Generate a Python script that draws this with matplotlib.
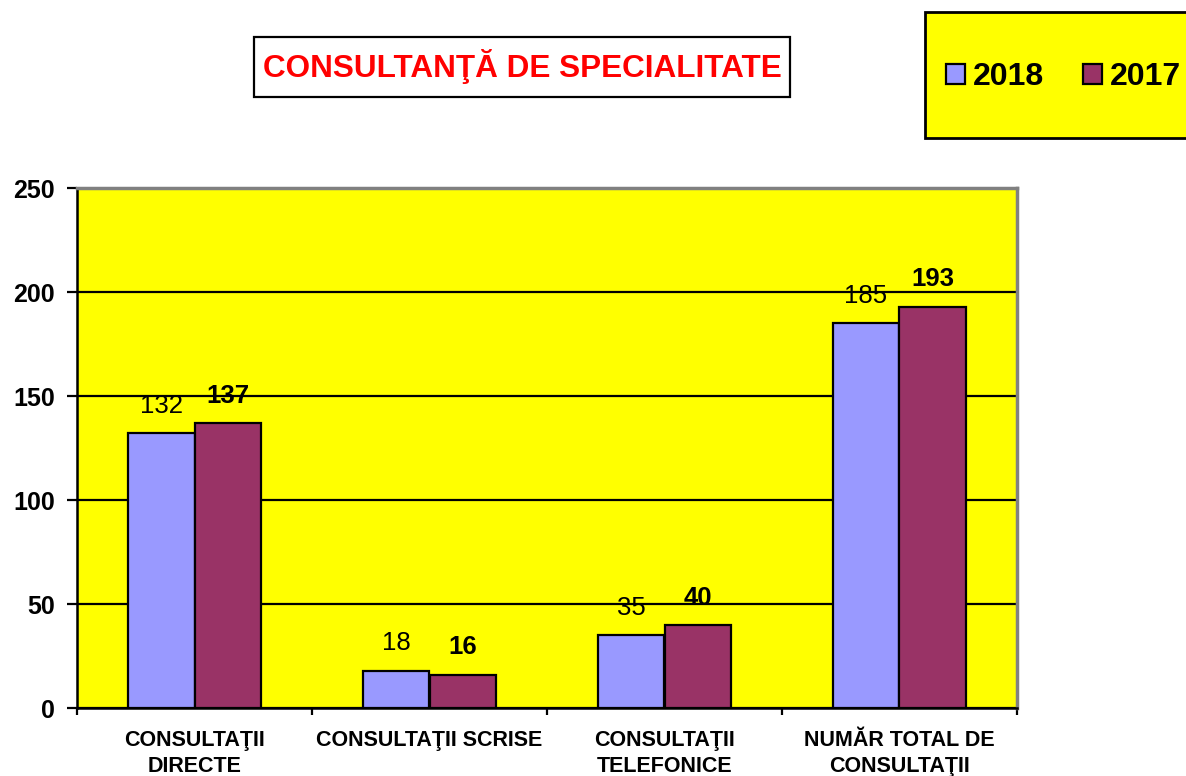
import matplotlib
matplotlib.use("Agg")
import matplotlib.pyplot as plt
from matplotlib.patches import Rectangle
import numpy as np

plt.rcParams['font.family'] = ['Liberation Sans', 'DejaVu Sans']

categories = ["CONSULTAŢII\nDIRECTE", "CONSULTAŢII SCRISE",
              "CONSULTAŢII\nTELEFONICE", "NUMĂR TOTAL DE\nCONSULTAŢII"]
vals_2018 = [132, 18, 35, 185]
vals_2017 = [137, 16, 40, 193]
series_names = ["2018", "2017"]
title = "CONSULTANŢĂ DE SPECIALITATE"

fig = plt.figure(figsize=(11.86, 7.76), dpi=100)
ax = fig.add_axes([77/1186, 1-708/776, 940/1186, 520/776])
ax.set_facecolor('#FFFF00')

x = np.arange(len(categories))
w = 0.285
b1 = ax.bar(x - w/2, vals_2018, w, color='#9999FF', edgecolor='black', linewidth=1.6,
            label=series_names[0], zorder=3)
b2 = ax.bar(x + w/2, vals_2017, w, color='#993366', edgecolor='black', linewidth=1.6,
            label=series_names[1], zorder=3)

for rect, v in zip(b1, vals_2018):
    ax.annotate(str(v), (rect.get_x() + rect.get_width()/2, v), xytext=(0, 11),
                textcoords='offset points', ha='center', va='bottom', fontsize=18.5, zorder=4)
for rect, v in zip(b2, vals_2017):
    ax.annotate(str(v), (rect.get_x() + rect.get_width()/2, v), xytext=(0, 11),
                textcoords='offset points', ha='center', va='bottom', fontsize=18.5,
                fontweight='bold', zorder=4)

ax.set_xlim(-0.5, len(categories) - 0.5)
ax.set_ylim(0, 250)
ax.set_yticks(range(0, 251, 50))
ax.yaxis.grid(True, color='black', linewidth=1.6, zorder=1)
ax.set_axisbelow(True)

ax.set_xticks(x)
ax.set_xticklabels(categories, fontsize=15.5, fontweight='bold', linespacing=1.3)
ax.set_xticks(np.arange(-0.5, len(categories), 1.0), minor=True)
ax.tick_params(axis='x', which='major', length=0, pad=16)
ax.tick_params(axis='x', which='minor', length=5, width=1.6, color='black')
ax.tick_params(axis='y', length=7, width=1.6, pad=9, labelsize=18)
for lab in ax.get_yticklabels():
    lab.set_fontweight('bold')

for s in ['left', 'bottom']:
    ax.spines[s].set_color('black')
    ax.spines[s].set_linewidth(1.8)
for s in ['top', 'right']:
    ax.spines[s].set_color('#808080')
    ax.spines[s].set_linewidth(2.5)

# title box
fig.patches.append(Rectangle((254/1186, 1-97/776), 536/1186, 60/776, transform=fig.transFigure,
                             facecolor='white', edgecolor='black', linewidth=1.6))
fig.text(522/1186, 1-67/776, title, color='#FF0000', fontsize=22.7, fontweight='bold',
         ha='center', va='center')

# legend box
fig.patches.append(Rectangle((925/1186, 1-138/776), 300/1186, 126/776, transform=fig.transFigure,
                             facecolor='#FFFF00', edgecolor='black', linewidth=2))
fig.legend(handles=[b1, b2], loc='center left', bbox_to_anchor=(946/1186, 1-77/776),
           ncol=2, frameon=False, prop={'size': 23, 'weight': 'bold'},
           handlelength=0.6, handleheight=0.6, handletextpad=0.25, columnspacing=1.2,
           borderpad=0, borderaxespad=0)

fig.savefig('out.png', dpi=100)
